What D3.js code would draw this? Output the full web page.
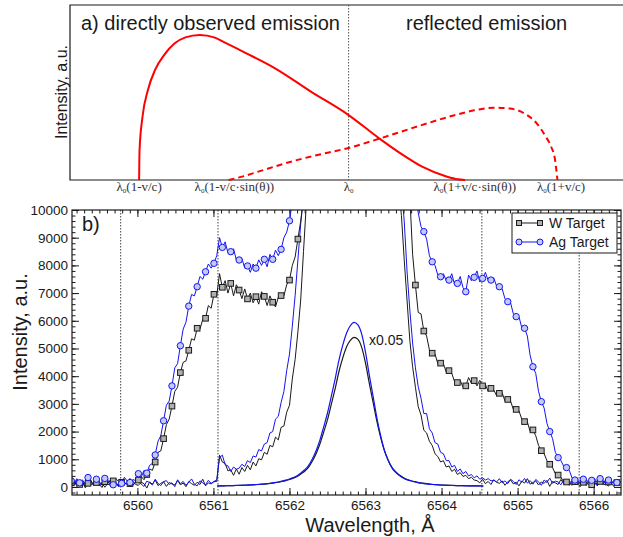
<!DOCTYPE html>
<html><head><meta charset="utf-8">
<script src="https://cdn.jsdelivr.net/npm/d3@7"></script>
<style>body{margin:0;background:#fff}svg{display:block}text{font-family:"Liberation Sans",Arial,sans-serif}</style>
</head><body><svg id="chart" width="623" height="537"></svg>
<script>
// ---------- panel a) : model profiles, u = (λ-λ0)/(λ0·v/c) ----------
const directU = [-1.0, -0.998, -0.984, -0.958, -0.924, -0.881, -0.830, -0.779, -0.710, -0.642, -0.590, -0.488, -0.351, -0.180, 0, 0.146, 0.248, 0.351, 0.470, 0.520, 0.556];
const directI = [0, 17, 36, 51.4, 62.9, 71.4, 78.1, 81.5, 82.9, 81.5, 78.5, 72.4, 63.8, 50.5, 37.1, 23.8, 15.2, 7.6, 1.9, 0.4, 0];
const reflectedU = [-0.573, -0.5, -0.42, -0.265, -0.1, 0, 0.146, 0.334, 0.505, 0.6, 0.693, 0.77, 0.84, 0.898, 0.94, 0.967, 0.985, 0.997];
const reflectedI = [0, 2.2, 5.2, 10.8, 15.6, 18.3, 23.6, 30.8, 37, 39.8, 41.3, 40.8, 38, 32.4, 25, 19, 12, 0];
const sinTheta = 0.574;
const markU = [-1, -sinTheta, 0, sinTheta, 1];
const markText = ["(1-v/c)", "(1-v/c\u00b7sin(\u03b8))", "", "(1+v/c\u00b7sin(\u03b8))", "(1+v/c)"];

// ---------- panel b) : measured spectra ----------
const xTicks = [6560, 6561, 6562, 6563, 6564, 6565, 6566];
const yTicks = [0, 1000, 2000, 3000, 4000, 5000, 6000, 7000, 8000, 9000, 10000];
const limitLines = [6559.78, 6561.06, 6564.53, 6565.81];
const gridStart = 6559.13, gridStep = 0.0368;   // sampling of the noisy spectra, Å

// W target, marked curve
const wMarkedLeftStart = 6559.13;
const wMarkedLeft = [150, 60, 210, 90, 180, 20, 130, 240, 70, 160, 100, -20, 190, 110, 60, 220, 140, 30, 170, 90, 200, 120, 50, 180,
  250, 380, 260, 450, 650, 600, 900, 1250, 1300, 1745, 2250, 2450, 2920, 3450, 3600, 4130, 4500, 4550, 4935, 5350,
  5300, 5730, 5700, 6050, 6090, 6550, 6450, 6957, 6900, 7700, 7210, 7450, 7000, 7350, 6900, 7300, 7110, 6800, 7150, 6790,
  7000, 6650, 6870, 6600, 7050, 6880, 6550, 6900, 6670, 6500, 6850, 6910, 6900, 7300, 7470, 8000, 8300, 8950, 9600, 10400];
const wMarkedRightStart = 6563.583;
const wMarkedRight = [10500, 8400, 7290, 6300, 6250, 5630, 5450, 4950, 4830, 4800, 4450, 4470, 4450, 4150, 4200, 4100, 3800, 3770, 3850, 3600,
  3650, 3950, 3750, 3840, 3650, 3850, 3650, 3700, 3450, 3560, 3500, 3300, 3380, 3400, 3100, 3160, 3100, 2800, 2800, 2750,
  2450, 2360, 2350, 2000, 2060, 1850, 1500, 1310, 1200, 950, 820, 700, 480, 430, 350, 180, 180,
  140, 60, 190, 100, 20, 170, 120, 230, 80, 150, 40, 200, 110, 70, 180, 130, 10, 160, 90];

// Ag target, marked curve
const agMarkedLeftStart = 6559.13;
const agMarkedLeft = [220, 120, 300, 150, 260, 90, 340, 180, 100, 280, 200, 60, 310, 170, 240, 80, 290, 190, 130, 350, 210, 160, 270, 230,
  480, 350, 600, 500, 780, 850, 1155, 1650, 1850, 2390, 2950, 3100, 3650, 4300, 4450, 5100, 5700, 5950, 6530, 6950,
  6900, 7230, 7600, 7500, 7770, 8050, 7900, 8075, 8350, 9000, 8650, 8850, 8450, 8495, 8600, 8200, 8195, 8250, 7900, 7980,
  7750, 8050, 7900, 8200, 8000, 8220, 7950, 8400, 8220, 8550, 8350, 8580, 9000, 9200, 9610, 10300];
const agMarkedRightStart = 6563.656;
const agMarkedRight = [11000, 9900, 9400, 9220, 8950, 8350, 8130, 8000, 7650, 7590, 7700, 7450, 7470, 7700, 7300, 7350, 7600, 7200, 7050, 7650,
  7450, 7570, 7800, 7400, 7530, 7750, 7450, 7470, 7550, 7250, 7230, 7150, 6800, 6690, 6650, 6250, 6150, 6150, 5750, 5730,
  5450, 4750, 4340, 4100, 3450, 3080, 2850, 2300, 2000, 1750, 1250, 1060, 950, 750, 700, 600, 320, 250,
  200, 110, 280, 150, 90, 240, 170, 60, 300, 190, 130, 250, 100, 220, 160, 270];

// W target, unmarked curve
const wPlainLeftStart = 6559.13;
const wPlainLeft = [90, 180, 40, 130, 220, -30, 110, 170, 60, 200, 80, 150, -10, 120, 240, 70, 160, 30, 190, 100, 140, 0, 210, 90, 60, 170,
  120, -40, 180, 100, 250, 50, 130, 190, 20, 160, 110, 70, 230, 80, 140, 10, 200, 120, 60, 170, 90, 280, 40, 150, 110, 190,
  200, 1150, 900, 850, 580, 620, 420, 650, 460, 700, 560, 780, 620, 900, 760, 1020, 980, 1250, 1180, 1500,
  1450, 1800, 1700, 2150, 2200, 2700, 2950, 3900, 4600, 5600, 6750, 8500, 10200];
const wPlainRightStart = 6563.436;
const wPlainRight = [10800, 9800, 8200, 6750, 5300, 4340, 3600, 2900, 2600, 2050, 1950, 1650, 1500, 1200, 1100, 900, 950, 720, 760, 560,
  640, 450, 520, 380, 420, 300, 350, 250,
  230, 150, 280, 120, 200, 90, 260, 170, 130, 220, 60, 190, 250, 110, 170, 40, 210, 140, 300, 100, 160, 220, 70, 180, 130, 240,
  20, 200, 150, 90, 270, 120, 180, 60, 230, 140, 100, 210, 170, 50, 190, 130, 250, 80, 160, 220, 110, 30, 200, 140, 180, 90];

// Ag target, unmarked curve
const agPlainLeftStart = 6559.13;
const agPlainLeft = [160, 60, 250, 120, 20, 190, 300, 80, 140, 230, 40, 170, 110, 260, 70, 200, 130, 0, 220, 150, 90, 310, 60, 180, 240, 100,
  20, 210, 160, 70, 280, 130, 50, 190, 230, 90, 150, 10, 260, 120, 200, 60, 170, 290, 100, 40, 220, 150, 80, 240, 130, 200,
  250, 1050, 1150, 800, 760, 560, 720, 640, 680, 820, 740, 950, 880, 1120, 1080, 1350, 1300, 1550, 1600, 1950,
  2000, 2450, 2550, 3050, 3450, 4200, 4800, 5800, 6900, 8200, 9500, 10500];
const agPlainRightStart = 6563.472;
const agPlainRight = [10800, 9600, 7800, 6390, 5200, 4300, 3620, 3200, 2650, 2650, 2100, 1950, 1600, 1550, 1250, 1200, 950, 950, 720, 780,
  560, 650, 480, 560, 400, 450, 330, 400, 280, 330, 250, 300, 220,
  240, 180, 300, 150, 220, 120, 280, 200, 90, 260, 170, 310, 140, 230, 100, 270, 190, 60, 250, 160, 320, 130, 210, 180, 80,
  260, 150, 230, 110, 290, 200, 140, 70, 250, 180, 120, 300, 160, 210, 90, 270, 190, 130, 240, 170, 220];

// Central line profiles scaled by 0.05
const peakStart = 6561.05, peakStep = 0.05;
const agPeak = [38, 41, 44, 47, 50, 55, 60, 65, 70, 77, 85, 95, 105, 120, 135, 155, 180, 210, 245, 285,
  340, 405, 505, 620, 770, 1010, 1310, 1690, 2170, 2670, 3270, 3890, 4570, 5110, 5550, 5820, 5940,
  5850, 5520, 4870, 4040, 3270, 2490, 1840, 1310, 950, 680, 520, 400, 315,
  255, 215, 180, 150, 130, 110, 95, 85, 75, 68, 62, 57, 53, 49, 46, 43, 41, 39, 37, 35, 33];
const wPeak = [36, 39, 42, 45, 49, 53, 57, 62, 67, 74, 81, 90, 100, 113, 128, 147, 170, 198, 230, 270,
  320, 380, 470, 570, 710, 930, 1200, 1550, 1980, 2430, 2980, 3540, 4160, 4650, 5050, 5290, 5400,
  5330, 5040, 4470, 3740, 3050, 2370, 1780, 1300, 960, 700, 540, 420, 335,
  270, 225, 190, 160, 138, 118, 102, 90, 80, 72, 66, 60, 56, 52, 49, 46, 43, 41, 39, 37, 35];

const seriesNames = ["W Target", "Ag Target"];

// ---------- drawing ----------
const svg = d3.select("#chart");
const ink = "#1a1a1a", red = "#ff0000", blue = "#1414f0";

// panel a
const ax = d3.scaleLinear().domain([-1.33, 1.31]).range([70, 623]);
const ay = d3.scaleLinear().domain([0, 100]).range([180, 5]);
const ga = svg.append("g");
ga.append("path").attr("d", `M${ax.range()[1]},${ay(100)}H${ax(-1.33)}V${ay(0)}H${ax.range()[1]}`)
  .attr("fill", "none").attr("stroke", ink).attr("stroke-width", 1.2);
ga.append("line").attr("x1", ax(0)).attr("x2", ax(0)).attr("y1", ay(100)).attr("y2", ay(0))
  .attr("stroke", "#555").attr("stroke-width", 1).attr("stroke-dasharray", "1.5,1.5");
const lineA = d3.line().x(d => ax(d[0])).y(d => ay(d[1])).curve(d3.curveMonotoneX);
ga.append("path").attr("d", lineA(d3.zip(directU, directI)))
  .attr("fill", "none").attr("stroke", red).attr("stroke-width", 2);
ga.append("path").attr("d", lineA(d3.zip(reflectedU, reflectedI)))
  .attr("fill", "none").attr("stroke", red).attr("stroke-width", 2).attr("stroke-dasharray", "6,4");
markU.forEach((u, k) => {
  const t = ga.append("text").attr("x", ax(u) + (k === 1 || k === 3 ? 6 : (k === 4 ? 3 : 0))).attr("y", 191)
    .attr("text-anchor", "middle").attr("fill", "#333")
    .style("font-family", "'Liberation Serif','Times New Roman',serif").style("font-size", "13px");
  t.append("tspan").text("\u03bb");
  t.append("tspan").attr("dy", 2).style("font-size", "7px").text("0");
  t.append("tspan").attr("dy", -2).text(markText[k]);
});
ga.append("text").attr("x", 81).attr("y", 30).attr("fill", ink).style("font-size", "20px").text("a) directly observed emission");
ga.append("text").attr("x", 406).attr("y", 30).attr("fill", ink).style("font-size", "20px").text("reflected emission");
ga.append("text").attr("transform", "translate(67,92) rotate(-90)").attr("text-anchor", "middle")
  .attr("fill", ink).style("font-size", "16px").text("Intensity, a.u.");

// panel b
const bL = 72, bR = 621, bT = 210, bB = 495;
const x = d3.scaleLinear().domain([6559.14, 6566.36]).range([bL, bR]);
const y = d3.scaleLinear().domain([-290, 10000]).range([bB, bT]);
const gb = svg.append("g");
svg.append("defs").append("clipPath").attr("id", "plot")
  .append("rect").attr("x", bL).attr("y", bT).attr("width", bR - bL).attr("height", bB - bT);

const minorX = d3.range(6559.2, 6566.36, 0.1).map(v => +v.toFixed(1));
const minorY = d3.range(-200, 10001, 200);
function ticks(axis, tr) {
  const g = gb.append("g").attr("transform", tr).call(axis);
  g.select(".domain").remove();
  g.selectAll("line").attr("stroke", ink);
  g.selectAll("text").attr("fill", ink).style("font-family", "'Liberation Sans',Arial,sans-serif").style("font-size", "13.5px");
  return g;
}
ticks(d3.axisBottom(x).tickValues(minorX).tickSize(-3.5).tickFormat(""), `translate(0,${bB})`);
ticks(d3.axisTop(x).tickValues(minorX).tickSize(-3.5).tickFormat(""), `translate(0,${bT})`);
ticks(d3.axisBottom(x).tickValues(xTicks).tickSize(-7).tickPadding(5).tickFormat(d3.format("d")), `translate(0,${bB})`);
ticks(d3.axisTop(x).tickValues(xTicks).tickSize(-7).tickFormat(""), `translate(0,${bT})`);
ticks(d3.axisLeft(y).tickValues(minorY).tickSize(-3.5).tickFormat(""), `translate(${bL},0)`);
ticks(d3.axisRight(y).tickValues(minorY).tickSize(-3.5).tickFormat(""), `translate(${bR},0)`);
ticks(d3.axisLeft(y).tickValues(yTicks).tickSize(-7).tickPadding(4).tickFormat(d3.format("d")), `translate(${bL},0)`);
ticks(d3.axisRight(y).tickValues(yTicks).tickSize(-7).tickFormat(""), `translate(${bR},0)`);

gb.selectAll("line.limit").data(limitLines).join("line").attr("class", "limit")
  .attr("x1", d => x(d)).attr("x2", d => x(d)).attr("y1", bT).attr("y2", bB)
  .attr("stroke", "#444").attr("stroke-width", 1).attr("stroke-dasharray", "1.5,1.5");

const plot = gb.append("g").attr("clip-path", "url(#plot)");
function points(start, values) {
  const i0 = Math.round((start - gridStart) / gridStep);
  return values.map((v, i) => ({ w: gridStart + (i0 + i) * gridStep, v, idx: i0 + i }));
}
const line = d3.line().x(d => x(d.w)).y(d => y(d.v));
const smooth = d3.line().x(d => x(d.w)).y(d => y(d.v)).curve(d3.curveMonotoneX);
function trace(pts, color, w) {
  plot.append("path").attr("d", line(pts)).attr("fill", "none").attr("stroke", color).attr("stroke-width", w).attr("stroke-linejoin", "round");
}
const wPlain = [points(wPlainLeftStart, wPlainLeft), points(wPlainRightStart, wPlainRight)];
const agPlain = [points(agPlainLeftStart, agPlainLeft), points(agPlainRightStart, agPlainRight)];
const wMarked = [points(wMarkedLeftStart, wMarkedLeft), points(wMarkedRightStart, wMarkedRight)];
const agMarked = [points(agMarkedLeftStart, agMarkedLeft), points(agMarkedRightStart, agMarkedRight)];
wPlain.forEach(p => trace(p, ink, 1));
agPlain.forEach(p => trace(p, blue, 1));
const peakPts = vals => vals.map((v, k) => ({ w: peakStart + k * peakStep, v }));
plot.append("path").attr("d", smooth(peakPts(wPeak))).attr("fill", "none").attr("stroke", ink).attr("stroke-width", 1.2);
plot.append("path").attr("d", smooth(peakPts(agPeak))).attr("fill", "none").attr("stroke", blue).attr("stroke-width", 1.2);
wMarked.forEach(p => trace(p, ink, 1));
agMarked.forEach(p => trace(p, blue, 1));

function squares(g, pts) {
  g.selectAll(null).data(pts).join("rect")
    .attr("x", d => x(d.w) - 2.8).attr("y", d => y(d.v) - 2.8).attr("width", 5.6).attr("height", 5.6)
    .attr("fill", "#b0b0b0").attr("stroke", ink).attr("stroke-width", 1);
}
function circles(g, pts) {
  g.selectAll(null).data(pts).join("circle")
    .attr("cx", d => x(d.w)).attr("cy", d => y(d.v)).attr("r", 3.2)
    .attr("fill", "#c2caf6").attr("stroke", blue).attr("stroke-width", 1);
}
const isMarker = d => d.idx % 3 === 0;
wMarked.forEach(p => squares(plot.append("g"), p.filter(isMarker)));
agMarked.forEach(p => circles(plot.append("g"), p.filter(isMarker)));

gb.append("rect").attr("x", bL).attr("y", bT).attr("width", bR - bL).attr("height", bB - bT)
  .attr("fill", "none").attr("stroke", ink).attr("stroke-width", 1.2);

gb.append("text").attr("x", 369).attr("y", 345).attr("fill", ink).style("font-size", "14px").text("x0.05");
gb.append("text").attr("x", 82).attr("y", 231).attr("fill", ink).style("font-size", "20px").text("b)");
gb.append("text").attr("transform", "translate(27,332) rotate(-90)").attr("text-anchor", "middle")
  .attr("fill", ink).style("font-size", "20px").text("Intensity, a.u.");
gb.append("text").attr("x", 370).attr("y", 532).attr("text-anchor", "middle")
  .attr("fill", ink).style("font-size", "20px").text("Wavelength, \u00c5");

// legend
const lg = gb.append("g");
lg.append("rect").attr("x", 512).attr("y", 213).attr("width", 105).attr("height", 40)
  .attr("fill", "#fff").attr("stroke", ink).attr("stroke-width", 1);
[[223, ink], [242, blue]].forEach(([ly, c], k) => {
  lg.append("line").attr("x1", 519).attr("x2", 540).attr("y1", ly).attr("y2", ly).attr("stroke", c).attr("stroke-width", 1);
  const ends = [{ px: 519 }, { px: 540 }];
  if (k === 0) lg.selectAll(null).data(ends).join("rect").attr("x", d => d.px - 2.5).attr("y", ly - 2.5)
    .attr("width", 5).attr("height", 5).attr("fill", "#b0b0b0").attr("stroke", ink);
  else lg.selectAll(null).data(ends).join("circle").attr("cx", d => d.px).attr("cy", ly).attr("r", 3)
    .attr("fill", "#c2caf6").attr("stroke", blue);
  lg.append("text").attr("x", 549).attr("y", ly + 5).attr("fill", ink).style("font-size", "14px").text(seriesNames[k]);
});
</script></body></html>
